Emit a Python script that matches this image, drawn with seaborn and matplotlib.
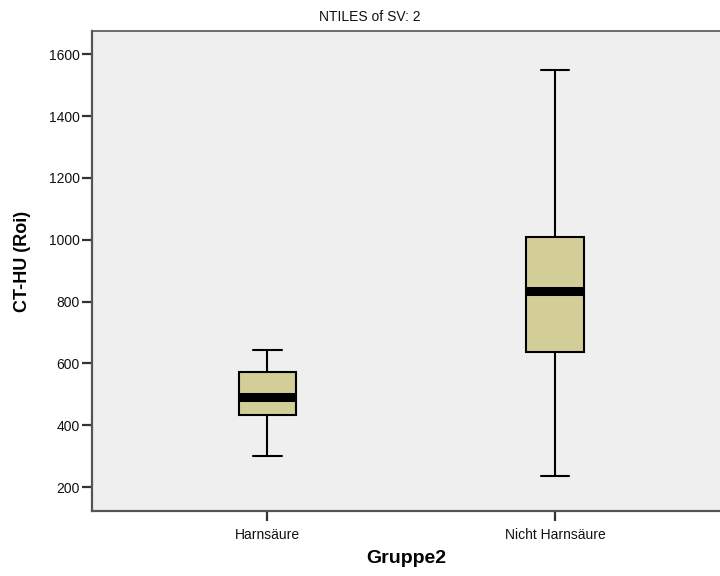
import matplotlib.pyplot as plt
import pandas as pd
import seaborn as sns

# five-number summaries: min, Q1, median, Q3, max
groups = ["Harnsäure", "Nicht Harnsäure"]
harnsaeure = [301, 433, 492, 573, 643]
nicht_harnsaeure = [236, 637, 835, 1009, 1548]
y_ticks = [200, 400, 600, 800, 1000, 1200, 1400, 1600]


def main():
    """Main function"""
    data = pd.DataFrame({
        "Gruppe2": [groups[0]] * len(harnsaeure) + [groups[1]] * len(nicht_harnsaeure),
        "CT-HU (Roi)": harnsaeure + nicht_harnsaeure,
    })

    sns.set_style("white")
    plt.rcParams["font.family"] = ["Liberation Sans", "DejaVu Sans"]

    fig = plt.figure(figsize=(7.2, 5.76), dpi=100)
    ax = fig.add_axes([92 / 720, 1 - 511 / 576, 1 - 92 / 720, 480 / 576])
    ax.set_facecolor("#efefef")

    sns.boxplot(data=data, x="Gruppe2", y="CT-HU (Roi)", order=groups,
                whis=(0, 100), width=0.2, color="#d3ce98", saturation=1,
                linecolor="black", linewidth=1.5, ax=ax,
                medianprops={"linewidth": 6.5, "color": "black"},
                showfliers=False)

    ax.set_xlim(-0.61, 1.574)
    ax.set_ylim(123, 1675)
    ax.set_yticks(y_ticks)
    ax.set_yticklabels([str(t) for t in y_ticks], fontsize=10, color="#111111")
    ax.tick_params(axis="x", labelsize=10, labelcolor="#111111", pad=5)
    ax.tick_params(axis="y", pad=2)
    ax.tick_params(axis="both", length=7, width=1.6, color="#333333",
                   direction="out", left=True, bottom=True)

    for side in ["left", "bottom", "top"]:
        ax.spines[side].set_color("#555555")
        ax.spines[side].set_linewidth(1.6)
    ax.spines["top"].set_linewidth(1.2)
    ax.spines["right"].set_visible(False)

    ax.set_xlabel("Gruppe2", fontsize=14, fontweight="bold", color="black")
    ax.set_ylabel("CT-HU (Roi)", fontsize=13, fontweight="bold", color="black")
    ax.xaxis.set_label_coords(0.5, -0.082)
    ax.yaxis.set_label_coords(-0.097, 0.52)

    fig.text(370 / 720, 1 - 17 / 576, "NTILES of SV: 2", ha="center",
             va="center", fontsize=10, color="#111111")

    fig.savefig("out.png", dpi=100, facecolor="white")


if __name__ == "__main__":
    main()
